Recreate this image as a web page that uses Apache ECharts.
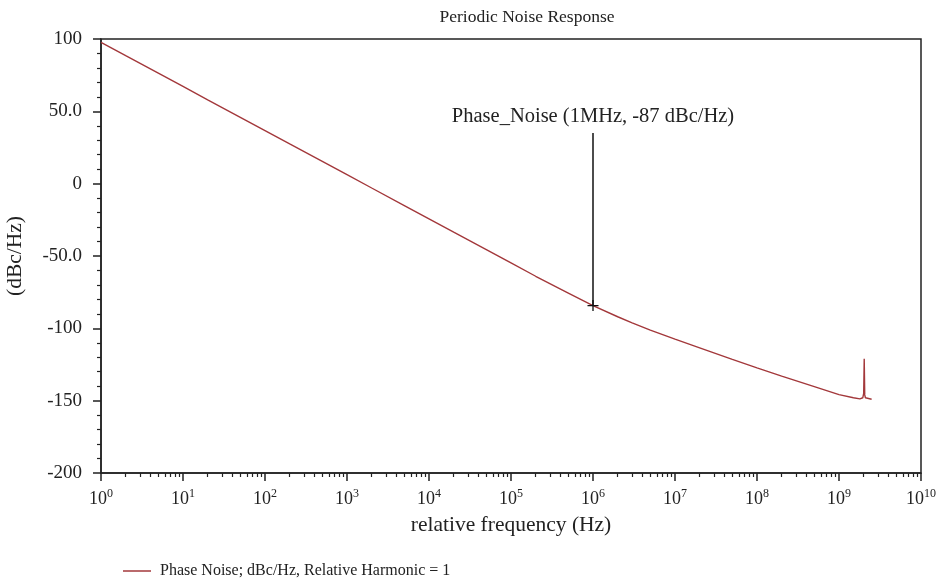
<!DOCTYPE html>
<html>
<head>
<meta charset="utf-8">
<script src="https://cdn.jsdelivr.net/npm/echarts@6/dist/echarts.min.js"></script>
<style>html,body{margin:0;padding:0;background:#fff}#c{width:940px;height:584px}</style>
</head>
<body>
<div id="c"></div>
<script>
const titleText = 'Periodic Noise Response';
const xAxisName = 'relative frequency (Hz)';
const yAxisName = '(dBc/Hz)';
const seriesName = 'Phase Noise; dBc/Hz, Relative Harmonic = 1';
const annotationText = 'Phase_Noise (1MHz, -87 dBc/Hz)';
const yTickLabels = {'100':'100','50':'50.0','0':'0','-50':'-50.0','-100':'-100','-150':'-150','-200':'-200'};
const xTickExponents = [0, 1, 2, 3, 4, 5, 6, 7, 8, 9, 10];
const frequencies = [1, 2, 5, 10, 20, 50, 100, 200, 500, 1e3, 2e3, 5e3, 1e4, 2e4, 5e4, 1e5, 2e5, 5e5,
  1e6, 2e6, 3e6, 5e6, 1e7, 2e7, 5e7, 1e8, 2e8, 5e8, 1e9, 1.5e9, 1.8e9, 1.95e9, 2.0e9, 2.03e9, 2.06e9, 2.1e9, 2.2e9, 2.5e9];
const phaseNoise = [97.7, 88.5, 76.4, 67.2, 58.0, 45.9, 36.7, 27.5, 15.4, 6.2, -3.0, -15.1, -24.3, -33.5, -45.6, -54.8, -64.0, -75.6,
  -84.3, -92.0, -96.2, -101.3, -107.5, -113.5, -121.5, -127.3, -133.0, -140.3, -145.8, -148.0, -148.8, -148.0, -145.0, -121.0, -146.0, -148.0, -148.5, -149.0];
const markerFreq = 1e6;
const markerValue = -84.3;
const markerTop = 35;
const minorTickMultipliers = [2, 3, 4, 5, 6, 7, 8, 9];

const majorTicks = xTickExponents.map(e => Math.pow(10, e));
const minorTicks = [];
for (let e = 0; e < 10; e++) {
  for (const m of minorTickMultipliers) minorTicks.push(m * Math.pow(10, e));
}

const font = '"Liberation Serif", "DejaVu Serif", serif';
const chart = echarts.init(document.getElementById('c'), null, {renderer: 'canvas'});
const data = frequencies.map((f, i) => [f, phaseNoise[i]]);

chart.setOption({
  animation: false,
  backgroundColor: '#fff',
  textStyle: {fontFamily: font},
  title: {
    text: titleText, left: 522, top: 3, textAlign: 'center',
    textStyle: {fontFamily: font, fontSize: 17.5, fontWeight: 'normal', color: '#222'}
  },
  legend: {
    left: 118, top: 558, itemWidth: 28, itemHeight: 1.5, itemGap: 12,
    formatter: n => '\u00a0' + n,
    textStyle: {fontFamily: font, fontSize: 16, color: '#222'},
    data: [{name: seriesName, icon: 'rect'}]
  },
  grid: {
    left: 101, right: 19, top: 39, bottom: 111,
    show: true, borderColor: '#222', borderWidth: 1.5, containLabel: false,
    outerBoundsMode: 'none'
  },
  xAxis: [{
    type: 'log', logBase: 10, min: 1, max: 1e10,
    name: xAxisName, nameLocation: 'middle', nameGap: 41,
    nameTextStyle: {fontFamily: font, fontSize: 21.5, color: '#222'},
    axisLine: {show: true, onZero: false, lineStyle: {color: '#222', width: 1.5}},
    axisTick: {show: true, inside: false, length: 8, customValues: majorTicks, lineStyle: {color: '#222', width: 1.5}},
    splitLine: {show: false},
    axisLabel: {
      margin: 15, color: '#222', customValues: majorTicks,
      formatter: function (v) {
        const e = Math.round(Math.log10(v));
        return '{b|10}{s|' + e + '}';
      },
      rich: {
        b: {fontFamily: font, fontSize: 18, color: '#222', verticalAlign: 'bottom', lineHeight: 20},
        s: {fontFamily: font, fontSize: 12, color: '#222', verticalAlign: 'top', lineHeight: 20, padding: [0, 0, 9, 0]}
      }
    }
  }, {
    type: 'log', logBase: 10, min: 1, max: 1e10, position: 'bottom',
    axisLine: {show: false, onZero: false},
    axisLabel: {show: false},
    splitLine: {show: false},
    axisTick: {show: true, inside: false, length: 4, customValues: minorTicks, lineStyle: {color: '#222', width: 1.2}}
  }],
  yAxis: {
    type: 'value', min: -200, max: 100, interval: 50,
    name: yAxisName, nameLocation: 'middle', nameGap: 75, nameRotate: 90,
    nameTextStyle: {fontFamily: font, fontSize: 21.5, color: '#222'},
    axisLine: {show: true, onZero: false, lineStyle: {color: '#222', width: 1.5}},
    axisTick: {show: true, length: 8, lineStyle: {color: '#222', width: 1.5}},
    minorTick: {show: true, splitNumber: 5, length: 4, lineStyle: {color: '#222', width: 1.2}},
    splitLine: {show: false},
    axisLabel: {
      margin: 19, color: '#222', fontFamily: font, fontSize: 19,
      formatter: v => yTickLabels[String(v)] !== undefined ? yTickLabels[String(v)] : String(v)
    }
  },
  series: [{
    name: seriesName, type: 'line', data: data, xAxisIndex: 0,
    showSymbol: false, symbol: 'none',
    lineStyle: {color: '#a3383b', width: 1.4},
    itemStyle: {color: '#a3383b'},
    markLine: {
      silent: true, symbol: ['none', 'none'],
      lineStyle: {color: '#111', width: 1.5, type: 'solid'},
      label: {show: true, position: 'end', formatter: annotationText, distance: 6,
        fontFamily: font, fontSize: 20.5, color: '#222'},
      data: [[{coord: [markerFreq, markerValue]}, {coord: [markerFreq, markerTop]}]]
    },
    markPoint: {
      silent: true,
      symbol: 'path://M0,4.4H10V5.6H0Z M4.4,0H5.6V10H4.4Z',
      symbolSize: 11,
      itemStyle: {color: '#111'},
      label: {show: false},
      data: [{coord: [markerFreq, markerValue]}]
    }
  }]
});
</script>
</body>
</html>
